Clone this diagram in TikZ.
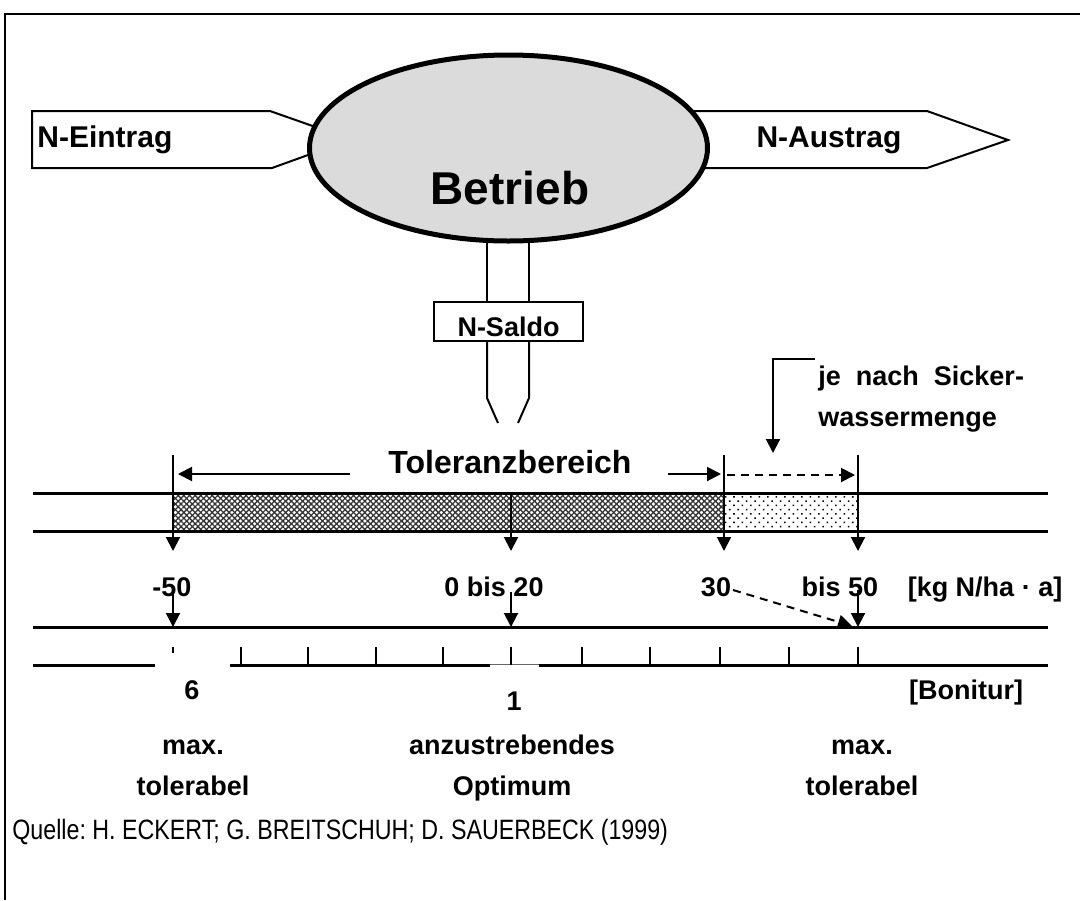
\documentclass[tikz,border=0pt]{standalone}
\usepackage{fontspec}
\setmainfont{Liberation Sans}
\usetikzlibrary{arrows.meta,patterns.meta,shapes.geometric,calc}
\frenchspacing

\begin{document}
\begin{tikzpicture}[x=0.5pt,y=-0.5pt,
  lbl/.style={font=\bfseries\fontsize{13.5}{16}\selectfont, inner sep=0pt, anchor=base},
  biglbl/.style={font=\bfseries\fontsize{15}{18}\selectfont, inner sep=0pt},
  outline/.style={line width=1pt},
  bar/.style={line width=1.5pt},
  tip/.style={line width=1pt,-{Triangle[length=7pt,width=7pt]}},
]
\useasboundingbox (0,0) rectangle (1080,900);

% frame
\draw[line width=1.3pt] (5,900) -- (5,14) -- (1080,14);

% inflow and outflow arrows (their inner ends lie under the ellipse)
\draw[outline, fill=white] (32,111) -- (270,111) -- (351,139.5) -- (272,168) -- (32,168) -- cycle;
\node[biglbl, anchor=west] (ein) at (37,139.5) {N-Eintrag};
\draw[outline, fill=white] (600,111) -- (927,111) -- (1008,140) -- (927,168) -- (600,168) -- cycle;
\node[biglbl] (aus) at (829,140) {N-Austrag};

% shaft below the farm
\node[draw, outline, fill=white, minimum width=74.5pt, minimum height=19.5pt, inner sep=0pt] (saldo) at (508.5,321.5) {};
\node[lbl] (saldotxt) at (508.5,336.5) {N-Saldo};
\draw[outline] (saldo.north -| 487,0) -- (487,230);
\draw[outline] (saldo.north -| 529,0) -- (529,230);
\coordinate (nibl) at (498,423);
\coordinate (nibr) at (518,423);
\draw[outline] (saldo.south -| 487,0) -- (487,398) -- (nibl);
\draw[outline] (saldo.south -| 529,0) -- (529,398) -- (nibr);

% the farm
\node[ellipse, draw, line width=2.5pt, fill=black!14, minimum width=199pt, minimum height=93pt] (betrieb) at (508.5,148) {};
\node[font=\bfseries\fontsize{23}{26}\selectfont, inner sep=0pt] (betriebtxt) at (510,188) {Betrieb};

% tolerance band
\coordinate (b0) at (173,493);
\coordinate (b1) at (724,531);
\coordinate (b2) at (858,531);
\fill[pattern={Lines[angle=45,distance=2pt,line width=0.65pt]}, pattern color=black!80] (b0) rectangle (b1);
\fill[pattern={Lines[angle=-45,distance=2pt,line width=0.65pt]}, pattern color=black!80] (b0) rectangle (b1);
\fill[pattern={Dots[angle=45,distance=3pt,radius=0.55pt]}, pattern color=black] (724,493) rectangle (b2);
\draw[bar] (33,493) -- (1048,493);
\draw[bar] (33,531) -- (1048,531);

% band boundaries pointing down to the values
\coordinate (t1) at (173,455);
\coordinate (t3) at (724,455);
\coordinate (t4) at (858,455);
\coordinate (t2) at (511,493);
\coordinate (d1) at (173,551);
\coordinate (d2) at (511,551);
\coordinate (d3) at (724,551);
\coordinate (d4) at (858,551);
\draw[tip] (t1) -- (d1);
\draw[tip] (t2) -- (d2);
\draw[tip] (t3) -- (d3);
\draw[tip] (t4) -- (d4);

% range arrows
\node[font=\bfseries\fontsize{16}{19}\selectfont, inner sep=0pt] (tol) at (510,462) {Toleranzbereich};
\coordinate (tl0) at (350,474);
\coordinate (tl1) at (178,474);
\coordinate (tr0) at (668,474);
\coordinate (tr1) at (721,474);
\draw[tip] (tl0) -- (tl1);
\draw[tip] (tr0) -- (tr1);
\draw[tip, dash pattern=on 4pt off 3pt] (727,475) -- (855,475);

% seepage note
\node[font=\bfseries\fontsize{13.5}{20.5}\selectfont, inner sep=0pt, anchor=north west, align=left] (sicker) at (818,366) {je\ \ nach\ \ Sicker-\\wassermenge};
\coordinate (hk0) at (815,359);
\coordinate (hk1) at (773,359);
\coordinate (hk2) at (773,453);
\draw[tip] (hk0) -- (hk1) -- (hk2);

% values in kg N per ha and year
\node[lbl] (v1) at (172,596) {-50};
\node[lbl] (v2) at (494,596) {0 bis 20};
\node[lbl] (v3) at (716,596) {30};
\node[lbl] (v4) at (840,596) {bis 50};
\node[lbl] (unit1) at (985,596) {[kg N/ha · a]};
\coordinate (s1) at (173,627);
\coordinate (s2) at (511,627);
\coordinate (s3) at (858,627);
\draw[tip] (173,590) -- (s1);
\draw[tip] (511,592) -- (s2);
\draw[tip] (858,590) -- (s3);
\draw[tip, dash pattern=on 4pt off 3pt] (733,590) -- (852,626);
\draw[bar] (33,627) -- (1048,627);

% rating scale
\draw[bar] (33,665) -- (155,665);
\draw[bar] (230,665) -- (490,665);
\draw[bar] (539,665) -- (1048,665);
\draw[line width=0.4pt, black!60] (490,664) -- (539,664);
\draw[line width=1pt] (173,647) -- (173,653);
\foreach \tx in {241,308,376,443,511,582,650,720,789,858}
  \draw[line width=1pt] (\tx,647) -- (\tx,665);
\node[lbl] (r6) at (192,699) {6};
\node[lbl] (r1) at (514,710) {1};
\node[lbl] (unit2) at (966,699) {[Bonitur]};

% verbal grades
\node[lbl] (g6a) at (193,754) {max.};
\node[lbl] (g6b) at (193,795) {tolerabel};
\node[lbl] (g1a) at (512,754) {anzustrebendes};
\node[lbl] (g1b) at (512,795) {Optimum};
\node[lbl] (g6c) at (862,754) {max.};
\node[lbl] (g6d) at (862,795) {tolerabel};

% source
\node[font=\fontsize{14}{17}\selectfont, inner sep=0pt, anchor=west] (quelle) at (12,832) {\scalebox{0.83}[1]{Quelle: H. ECKERT; G. BREITSCHUH; D. SAUERBECK (1999)}};
\end{tikzpicture}
\end{document}
